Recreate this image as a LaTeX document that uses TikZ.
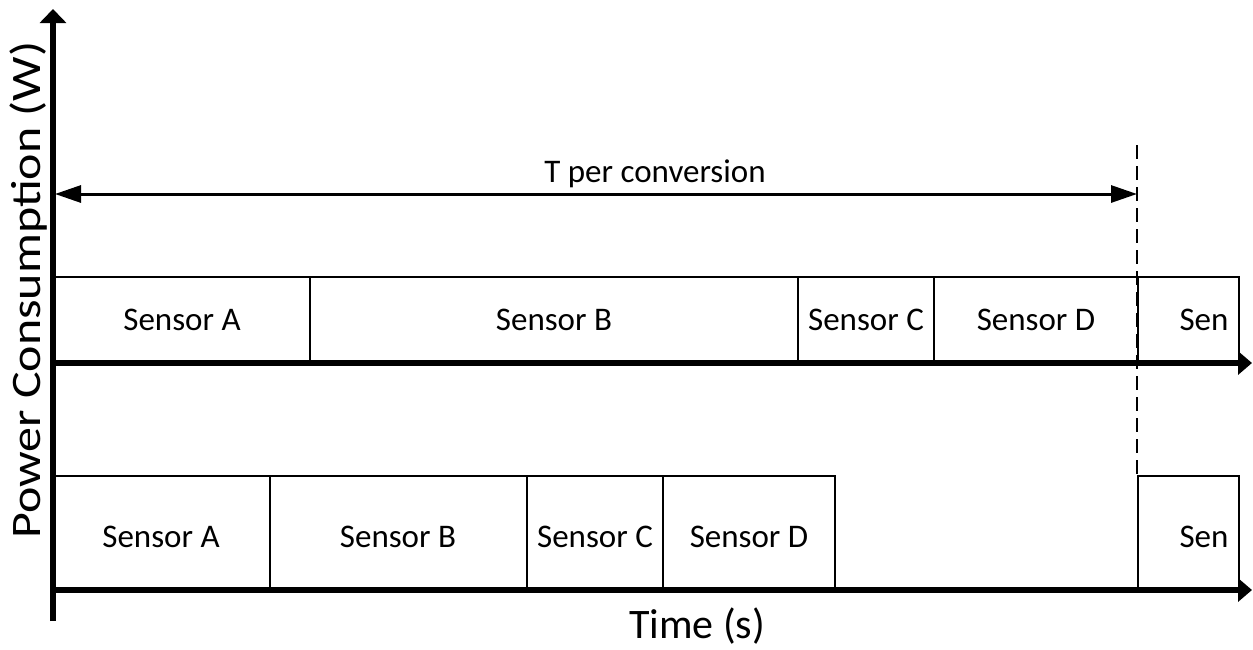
\documentclass[tikz,border=0pt]{standalone}
\usepackage{fontspec}
\setmainfont{Carlito}
\usetikzlibrary{arrows.meta}
\begin{document}
\begin{tikzpicture}[x=0.5pt,y=-0.5pt,
  axis/.style={line width=2.75pt},
  vtip/.style={-{Triangle[length=7pt,width=13pt]}},
  htip/.style={-{Triangle[length=7pt,width=11.5pt]}},
  span/.style={line width=1.5pt,{Triangle[length=13pt,width=8.5pt]}-{Triangle[length=13pt,width=8.5pt]}},
  slot/.style={draw,line width=1pt},
  marker/.style={line width=0.75pt,dash pattern=on 7pt off 3.5pt},
  lbl/.style={font=\fontsize{16.5}{19}\selectfont,anchor=base,inner sep=0pt},
  axlbl/.style={font=\fontsize{21}{25}\selectfont,inner sep=0pt}]
\useasboundingbox (0,0) rectangle (1253,649);

% end of one conversion period
\draw[marker] (1137,145) -- (1137,476);

% upper time line: slots
\foreach \a/\b in {53/310, 310/798, 798/934, 934/1138, 1138/1239}
  \draw[slot] (\a,277) rectangle (\b,363);
\node[lbl] (ta) at (182,330) {Sensor A};
\node[lbl] (tb) at (554,330) {Sensor B};
\node[lbl] (tc) at (866,330) {Sensor C};
\node[lbl] (td) at (1036,330) {Sensor D};
\node[lbl] (te) at (1204,330) {Sen};

% lower time line: slots
\foreach \a/\b in {53/270, 270/527, 527/663, 663/835, 1138/1239}
  \draw[slot] (\a,476) rectangle (\b,590);
\node[lbl] (ba) at (161,547) {Sensor A};
\node[lbl] (bb) at (398,547) {Sensor B};
\node[lbl] (bc) at (595,547) {Sensor C};
\node[lbl] (bd) at (749,547) {Sensor D};
\node[lbl] (be) at (1204,547) {Sen};

% axes
\coordinate (o) at (53,621);
\coordinate (ytop) at (53,9);
\draw[axis,vtip] (o) -- (ytop);
\coordinate (u0) at (51,363);
\coordinate (u1) at (1252,363);
\draw[axis,htip] (u0) -- (u1);
\coordinate (l0) at (51,590);
\coordinate (l1) at (1252,590);
\draw[axis,htip] (l0) -- (l1);

% conversion period
\coordinate (p0) at (55,194);
\coordinate (p1) at (1137,194);
\draw[span] (p0) -- (p1);
\node[lbl] (period) at (655,182) {T per conversion};

% axis titles
\node[axlbl,anchor=base] (xt) at (697,638) {Time (s)};
\node[axlbl,anchor=base,rotate=90,xscale=1.19] (yt) at (40,290) {Power Consumption (W)};
\end{tikzpicture}
\end{document}
